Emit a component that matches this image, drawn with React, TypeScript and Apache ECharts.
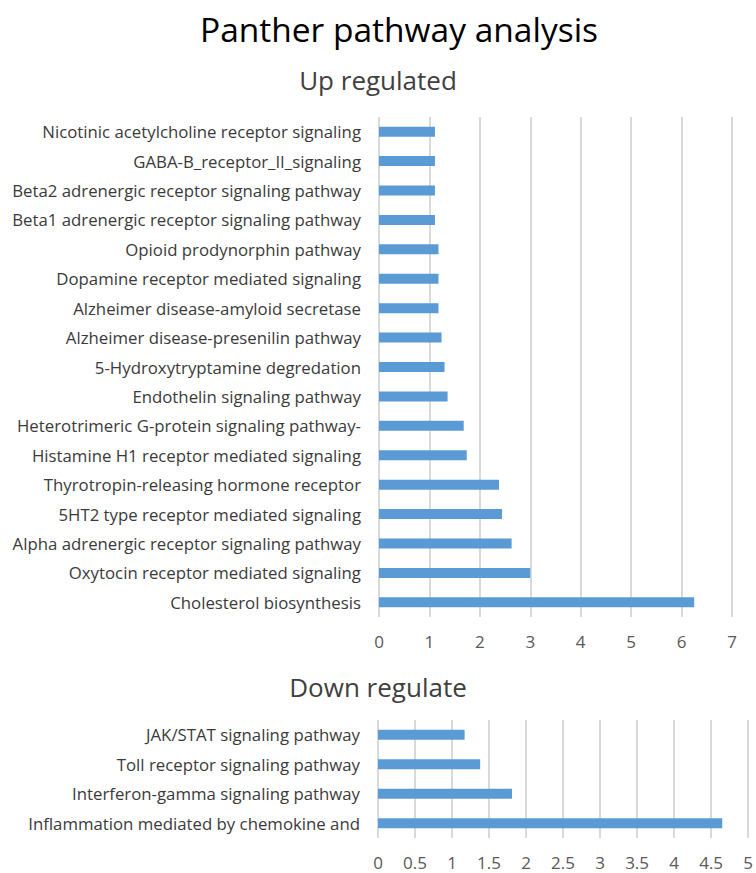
import React, { useEffect, useRef } from "react";
import * as echarts from "echarts";

// Up-regulated pathways, listed top to bottom
const upCategories = [
  "Nicotinic acetylcholine receptor signaling",
  "GABA-B_receptor_II_signaling",
  "Beta2 adrenergic receptor signaling pathway",
  "Beta1 adrenergic receptor signaling pathway",
  "Opioid prodynorphin pathway",
  "Dopamine receptor mediated signaling",
  "Alzheimer disease-amyloid secretase",
  "Alzheimer disease-presenilin pathway",
  "5-Hydroxytryptamine degredation",
  "Endothelin signaling pathway",
  "Heterotrimeric G-protein signaling pathway-",
  "Histamine H1 receptor mediated signaling",
  "Thyrotropin-releasing hormone receptor",
  "5HT2 type receptor mediated signaling",
  "Alpha adrenergic receptor signaling pathway",
  "Oxytocin receptor mediated signaling",
  "Cholesterol biosynthesis",
];
const upValues = [1.11, 1.11, 1.11, 1.11, 1.18, 1.18, 1.18, 1.24, 1.3, 1.36, 1.68, 1.74, 2.38, 2.44, 2.63, 3.0, 6.25];

// Down-regulated pathways, listed top to bottom
const downCategories = [
  "JAK/STAT signaling pathway",
  "Toll receptor signaling pathway",
  "Interferon-gamma signaling pathway",
  "Inflammation mediated by chemokine and",
];
const downValues = [1.17, 1.38, 1.81, 4.65];

const upTicks = [0, 1, 2, 3, 4, 5, 6, 7];
const downTicks = [0, 0.5, 1, 1.5, 2, 2.5, 3, 3.5, 4, 4.5, 5];

const FONT = "'Open Sans', 'Noto Sans', sans-serif";
const BAR = "#5b9bd5";
const GRID_LINE = "#d9d9d9";

export default function App() {
  const ref = useRef<HTMLDivElement>(null);

  useEffect(() => {
    if (!ref.current) return;
    const chart = echarts.init(ref.current, undefined, { renderer: "svg" });

    const valueAxis = (gridIndex: number, ticks: number[]) => ({
      type: "value" as const,
      gridIndex,
      min: ticks[0],
      max: ticks[ticks.length - 1],
      interval: ticks[1] - ticks[0],
      axisLine: { show: false },
      axisTick: { show: false },
      splitLine: { show: true, lineStyle: { color: GRID_LINE, width: 2 } },
      axisLabel: {
        color: "#595959",
        fontFamily: FONT,
        fontSize: 17,
        margin: 16,
        formatter: (v: number) => String(v),
      },
    });

    const catAxis = (gridIndex: number, cats: string[]) => ({
      type: "category" as const,
      gridIndex,
      data: cats,
      inverse: true,
      axisLine: { show: false },
      axisTick: { show: false },
      axisLabel: {
        color: "#3a3a3a",
        fontFamily: FONT,
        fontSize: 16.8,
        margin: 18,
      },
    });

    chart.setOption({
      animation: false,
      backgroundColor: "#ffffff",
      title: [
        {
          text: "Panther pathway analysis",
          left: 195,
          top: 7,
          textStyle: { fontFamily: FONT, fontSize: 33.5, fontWeight: "normal", color: "#000000" },
        },
        {
          text: "Up regulated",
          left: "center",
          top: 62,
          textStyle: { fontFamily: FONT, fontSize: 26, fontWeight: "normal", color: "#404040" },
        },
        {
          text: "Down regulate",
          left: "center",
          top: 669,
          textStyle: { fontFamily: FONT, fontSize: 26, fontWeight: "normal", color: "#404040" },
        },
      ],
      grid: [
        { left: 379, right: 24, top: 117, bottom: 256, containLabel: false },
        { left: 378, right: 6, top: 720, bottom: 35, containLabel: false },
      ],
      xAxis: [valueAxis(0, upTicks), valueAxis(1, downTicks)],
      yAxis: [catAxis(0, upCategories), catAxis(1, downCategories)],
      series: [
        {
          type: "bar",
          xAxisIndex: 0,
          yAxisIndex: 0,
          data: upValues,
          barWidth: 10,
          itemStyle: { color: BAR },
        },
        {
          type: "bar",
          xAxisIndex: 1,
          yAxisIndex: 1,
          data: downValues,
          barWidth: 10,
          itemStyle: { color: BAR },
        },
      ],
    });

    return () => chart.dispose();
  }, []);

  return (
    <div
      ref={ref}
      style={{ position: "fixed", left: 0, top: 0, width: 756, height: 873 }}
    />
  );
}
